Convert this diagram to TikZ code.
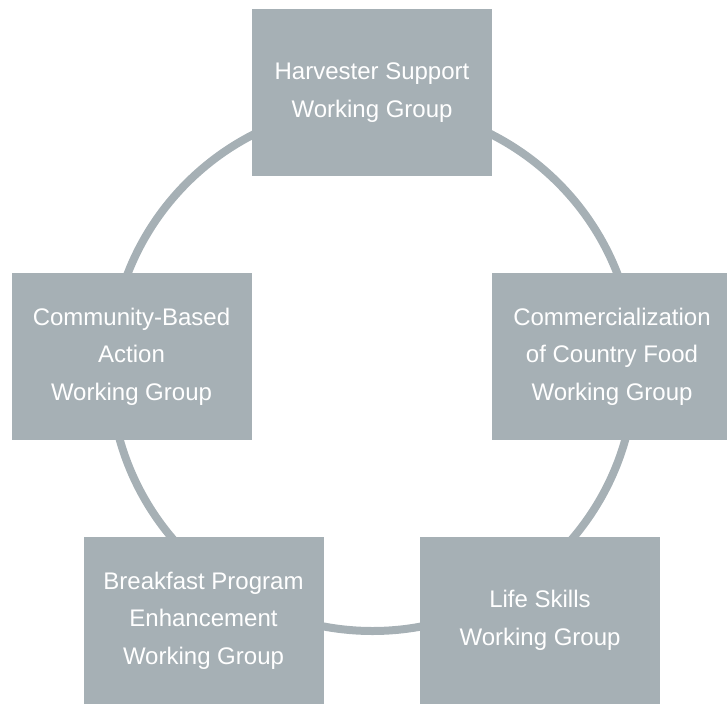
\documentclass[tikz,border=0pt]{standalone}
\usepackage{fontspec}
\setmainfont{Liberation Sans}
\definecolor{groupgray}{HTML}{A6B0B5}

\begin{document}
\begin{tikzpicture}[x=1pt, y=-1pt,
    wg/.style={rectangle, fill=groupgray, minimum width=240pt, minimum height=167pt, inner sep=0pt, align=center, text=white, font=\fontsize{24}{37.5}\selectfont, execute at begin node={\rule{0pt}{29pt}}}]
            \useasboundingbox (0,0) rectangle (727,703);
            \coordinate (hub) at (372.5,368.5);
            \draw[groupgray, line width=8pt] (hub) circle[radius=262.5pt];

            \node[wg] (harvester) at (372,92.5) {Harvester Support\\Working Group};
            \node[wg] (community) at (131.5,356.5) {Community-Based\\Action\\Working Group};
            \node[wg] (commercial) at (612,356.5) {Commercialization\\of Country Food\\Working Group};
            \node[wg] (breakfast) at (203.5,620.5) {Breakfast Program\\Enhancement\\Working Group};
            \node[wg] (lifeskills) at (540,620.5) {Life Skills\\Working Group};
        \end{tikzpicture}
\end{document}
